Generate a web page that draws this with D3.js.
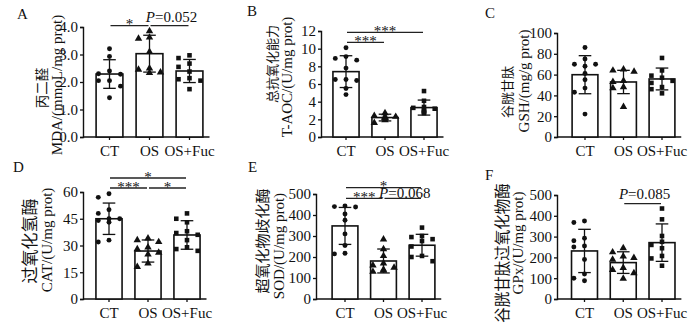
<!DOCTYPE html>
<html>
<head>
<meta charset="utf-8">
<script src="https://cdn.jsdelivr.net/npm/d3@7"></script>
<style>
  body { margin: 0; background: #fff; }
  svg { display: block; }
  text { font-family: "Liberation Serif", "Times New Roman", serif; fill: #111; }
  .zh { font-family: "Noto Sans CJK SC", sans-serif; }
</style>
</head>
<body>
<svg id="fig" width="700" height="336"></svg>
<script>
const groups = ["CT", "OS", "OS+Fuc"];

// A – MDA
const mdaPoints = [
  [3.21, 2.93, 2.4, 2.3, 2.28, 2.05, 2.05, 1.85, 1.43],
  [3.85, 3.62, 3.58, 3.1, 2.5, 2.45, 2.35, 2.33],
  [2.97, 2.87, 2.67, 2.55, 2.38, 2.14, 2.1, 2.05, 1.74]
];
const mdaMean = [2.29, 3.03, 2.40];
const mdaSD = [0.52, 0.67, 0.42];
const mdaTicks = [0, 1, 2, 3, 4];
const mdaSig = [
  { from: 0, to: 1, row: 0, label: "*" },
  { from: 1, to: 2, row: 0, label: "P=0.052" }
];

// B – T-AOC
const taocPoints = [
  [10.1, 9.1, 8.9, 8.7, 7.8, 6.5, 6.4, 6.5, 5.5, 4.8],
  [2.7, 2.4, 2.3, 2.3, 2.2, 2.2, 2.1, 1.9, 1.6],
  [5.2, 4.1, 3.4, 3.3, 3.2, 3.0, 2.9, 2.8, 2.7]
];
const taocMean = [7.4, 2.2, 3.33];
const taocSD = [1.8, 0.38, 0.85];
const taocTicks = [0, 2, 4, 6, 8, 10, 12];
const taocSig = [
  { from: 0, to: 2, row: 0, label: "***" },
  { from: 0, to: 1, row: 1, label: "***" }
];

// C – GSH
const gshPoints = [
  [86, 75, 70, 70, 68, 61, 55, 47, 43, 22],
  [65, 64, 63, 54, 53, 48, 47, 29],
  [76, 64, 59, 57, 54, 52, 48, 46, 42]
];
const gshMean = [59.9, 52.9, 55.8];
const gshSD = [18.3, 11.2, 10.5];
const gshTicks = [0, 20, 40, 60, 80, 100];
const gshSig = [];

// D – CAT
const catPoints = [
  [59, 57, 50, 48, 45, 45, 44, 43, 33, 32],
  [34, 33, 32, 29, 28, 26, 25, 20, 18],
  [48, 45, 43, 38, 37, 36, 33, 29, 28, 27]
];
const catMean = [45.0, 26.9, 35.9];
const catSD = [8.8, 6.2, 8.0];
const catTicks = [0, 15, 30, 45, 60];
const catSig = [
  { from: 0, to: 2, row: 0, label: "*" },
  { from: 0, to: 1, row: 1, label: "***" },
  { from: 1, to: 2, row: 1, label: "*" }
];

// E – SOD
const sodPoints = [
  [443, 440, 438, 405, 375, 310, 255, 218, 215],
  [284, 238, 205, 170, 160, 150, 140, 135, 130],
  [340, 300, 295, 285, 276, 250, 205, 200, 180]
];
const sodMean = [348, 181, 256];
const sodSD = [88, 57, 52];
const sodTicks = [0, 100, 200, 300, 400, 500];
const sodSig = [
  { from: 0, to: 2, row: 0, label: "*" },
  { from: 0, to: 1, row: 1, label: "***" },
  { from: 1, to: 2, row: 1, label: "P=0.068" }
];

// F – GPx
const gpxPoints = [
  [375, 368, 292, 280, 255, 250, 190, 120, 100, 88],
  [245, 225, 205, 198, 190, 150, 140, 125, 98],
  [435, 383, 303, 275, 260, 244, 207, 195, 160]
];
const gpxMean = [231, 175, 271];
const gpxSD = [104, 52, 90];
const gpxTicks = [0, 100, 200, 300, 400, 500];
const gpxSig = [
  { from: 1, to: 2, row: 0, label: "P=0.085" }
];

const panels = [
  { letter: "A", lx: 17, ly: 19, zh: "丙二醛", en: "MDA/(mmoL/mg prot)",
    zx: 42, zy: 88, zs: 13.5, ex: 57, ey: 85,
    pts: mdaPoints, mean: mdaMean, sd: mdaSD, ticks: mdaTicks, sig: mdaSig,
    ax: 83, y0: 137, yTop: 27, c0: 109.5, step: 40, rows: [25.7], pdy: -4 },
  { letter: "B", lx: 247, ly: 16, zh: "总抗氧化能力", en: "T-AOC/(U/mg prot)",
    zx: 272, zy: 64, zs: 13, ex: 287, ey: 77,
    pts: taocPoints, mean: taocMean, sd: taocSD, ticks: taocTicks, sig: taocSig,
    ax: 321, y0: 137, yTop: 31, c0: 346, step: 39, rows: [32.3, 42.3], pdy: -4 },
  { letter: "C", lx: 485, ly: 18, zh: "谷胱甘肽", en: "GSH/(mg/g prot)",
    zx: 507, zy: 92, zs: 13, ex: 524, ey: 81,
    pts: gshPoints, mean: gshMean, sd: gshSD, ticks: gshTicks, sig: gshSig,
    ax: 557, y0: 137, yTop: 33, c0: 585, step: 38.5, rows: [], pdy: -4 },
  { letter: "D", lx: 13, ly: 172, zh: "过氧化氢酶", en: "CAT/(U/mg prot)",
    zx: 30, zy: 241, zs: 17, ex: 47, ey: 240,
    pts: catPoints, mean: catMean, sd: catSD, ticks: catTicks, sig: catSig,
    ax: 83, y0: 299, yTop: 192, c0: 109, step: 39, rows: [178, 188], pdy: -4 },
  { letter: "E", lx: 248, ly: 172, zh: "超氧化物歧化酶", en: "SOD/(U/mg prot)",
    zx: 263, zy: 241, zs: 15, ex: 279, ey: 246,
    pts: sodPoints, mean: sodMean, sd: sodSD, ticks: sodTicks, sig: sodSig,
    ax: 316, y0: 299, yTop: 194, c0: 345, step: 38.5, rows: [187.7, 198.3], pdy: 0 },
  { letter: "F", lx: 485, ly: 180, zh: "谷胱甘肽过氧化物酶", en: "GPx/(U/mg prot)",
    zx: 503, zy: 253, zs: 15.5, ex: 518, ey: 243,
    pts: gpxPoints, mean: gpxMean, sd: gpxSD, ticks: gpxTicks, sig: gpxSig,
    ax: 557, y0: 299, yTop: 195, c0: 584.5, step: 38.75, rows: [203.7], pdy: -5 }
];

const shapes = [d3.symbolCircle, d3.symbolTriangle, d3.symbolSquare];
const shapeSize = [19, 24, 21];

// spread points that sit at nearly the same height into side columns
function dodge(vals, y, r, off) {
  const placed = [];
  const order = vals.map((v, i) => ({ v, i })).sort((a, b) => b.v - a.v);
  const out = new Array(vals.length);
  order.forEach(({ v, i }) => {
    const yy = y(v);
    let dx = 0;
    for (const c of [0, -off, off]) {
      const hit = placed.some(p => Math.abs(p.y - yy) < 2 * r + 1 && Math.abs(p.dx - c) < 2 * r + 1);
      if (!hit) { dx = c; break; }
    }
    placed.push({ y: yy, dx });
    out[i] = { v, y: yy, dx };
  });
  return out;
}

const svg = d3.select("#fig");

panels.forEach(p => {
  const g = svg.append("g");
  const yMax = p.ticks[p.ticks.length - 1];
  const y = d3.scaleLinear().domain([0, yMax]).range([p.y0, p.yTop]);
  const x = d3.scaleBand().domain(groups)
    .range([p.c0 - p.step / 2, p.c0 + p.step * 2.5])
    .paddingInner(0.33).paddingOuter(0.165);
  const bw = x.bandwidth();
  const cx = d => x(d) + bw / 2;

  // panel letter
  g.append("text").attr("x", p.lx).attr("y", p.ly)
    .style("font-size", "15px").text(p.letter);

  // y axis title, two lines
  g.append("text").attr("class", "zh")
    .attr("transform", `translate(${p.zx},${p.zy}) rotate(-90)`)
    .attr("text-anchor", "middle").attr("dy", "0.35em")
    .style("font-size", p.zs + "px")
    .text(p.zh);
  g.append("text")
    .attr("transform", `translate(${p.ex},${p.ey}) rotate(-90)`)
    .attr("text-anchor", "middle").attr("dy", "0.35em")
    .style("font-size", "15px").text(p.en);

  // y axis
  const ya = g.append("g").attr("transform", `translate(${p.ax},0)`)
    .call(d3.axisLeft(y).tickValues(p.ticks).tickSize(3).tickPadding(2));
  ya.select(".domain").attr("stroke", "#111").attr("stroke-width", 1.4);
  ya.selectAll(".tick line").attr("stroke", "#111").attr("stroke-width", 1.3);
  ya.selectAll(".tick text").style("font-size", "15px")
    .style("font-family", "'Liberation Serif', serif").attr("fill", "#111");

  // x axis
  const xa = g.append("g").attr("transform", `translate(0,${p.y0})`)
    .call(d3.axisBottom(x).tickSize(3).tickPadding(5));
  xa.select(".domain").remove();
  xa.selectAll(".tick line").attr("stroke", "#111").attr("stroke-width", 1.3);
  xa.selectAll(".tick text").style("font-size", "15px")
    .style("font-family", "'Liberation Serif', serif").attr("fill", "#111");
  g.append("line").attr("x1", p.ax).attr("x2", x.range()[1])
    .attr("y1", p.y0).attr("y2", p.y0)
    .attr("stroke", "#111").attr("stroke-width", 1.4);

  // bars
  g.selectAll("rect.bar").data(groups).join("rect")
    .attr("class", "bar")
    .attr("x", d => x(d)).attr("width", bw)
    .attr("y", (d, i) => y(p.mean[i]))
    .attr("height", (d, i) => p.y0 - y(p.mean[i]))
    .attr("fill", "#fff").attr("stroke", "#111").attr("stroke-width", 1.6);

  // individual points
  groups.forEach((grp, gi) => {
    const pos = dodge(p.pts[gi], y, 2.4, bw * 0.41);
    g.selectAll(null).data(pos).join("path")
      .attr("transform", d => `translate(${cx(grp) + d.dx},${d.y})`)
      .attr("d", d3.symbol(shapes[gi], shapeSize[gi]))
      .attr("fill", "#111");
  });

  // mean ± SD
  groups.forEach((grp, gi) => {
    const hi = y(p.mean[gi] + p.sd[gi]), lo = y(p.mean[gi] - p.sd[gi]);
    const c = cx(grp), cap = 6.3;
    const eb = g.append("g").attr("stroke", "#111").attr("stroke-width", 1.3);
    eb.append("line").attr("x1", c).attr("x2", c).attr("y1", hi).attr("y2", lo);
    eb.append("line").attr("x1", c - cap).attr("x2", c + cap).attr("y1", hi).attr("y2", hi);
    eb.append("line").attr("x1", c - cap).attr("x2", c + cap).attr("y1", lo).attr("y2", lo);
  });

  // significance brackets
  p.sig.forEach(s => {
    const ly = p.rows[s.row];
    const x1 = cx(groups[s.from]) + 1, x2 = cx(groups[s.to]) - 1;
    g.append("line").attr("x1", x1).attr("x2", x2).attr("y1", ly).attr("y2", ly)
      .attr("stroke", "#222").attr("stroke-width", 1.3);
    const t = g.append("text").attr("text-anchor", "middle")
      .style("font-size", "15px");
    if (s.label.startsWith("P")) {
      t.attr("x", (x1 + x2) / 2 + 2).attr("y", ly + p.pdy);
      t.append("tspan").style("font-style", "italic").text("P");
      t.append("tspan").text(s.label.slice(1));
    } else {
      t.attr("x", (x1 + x2) / 2).attr("y", ly + 3.5).text(s.label);
    }
  });
});
</script>
</body>
</html>
